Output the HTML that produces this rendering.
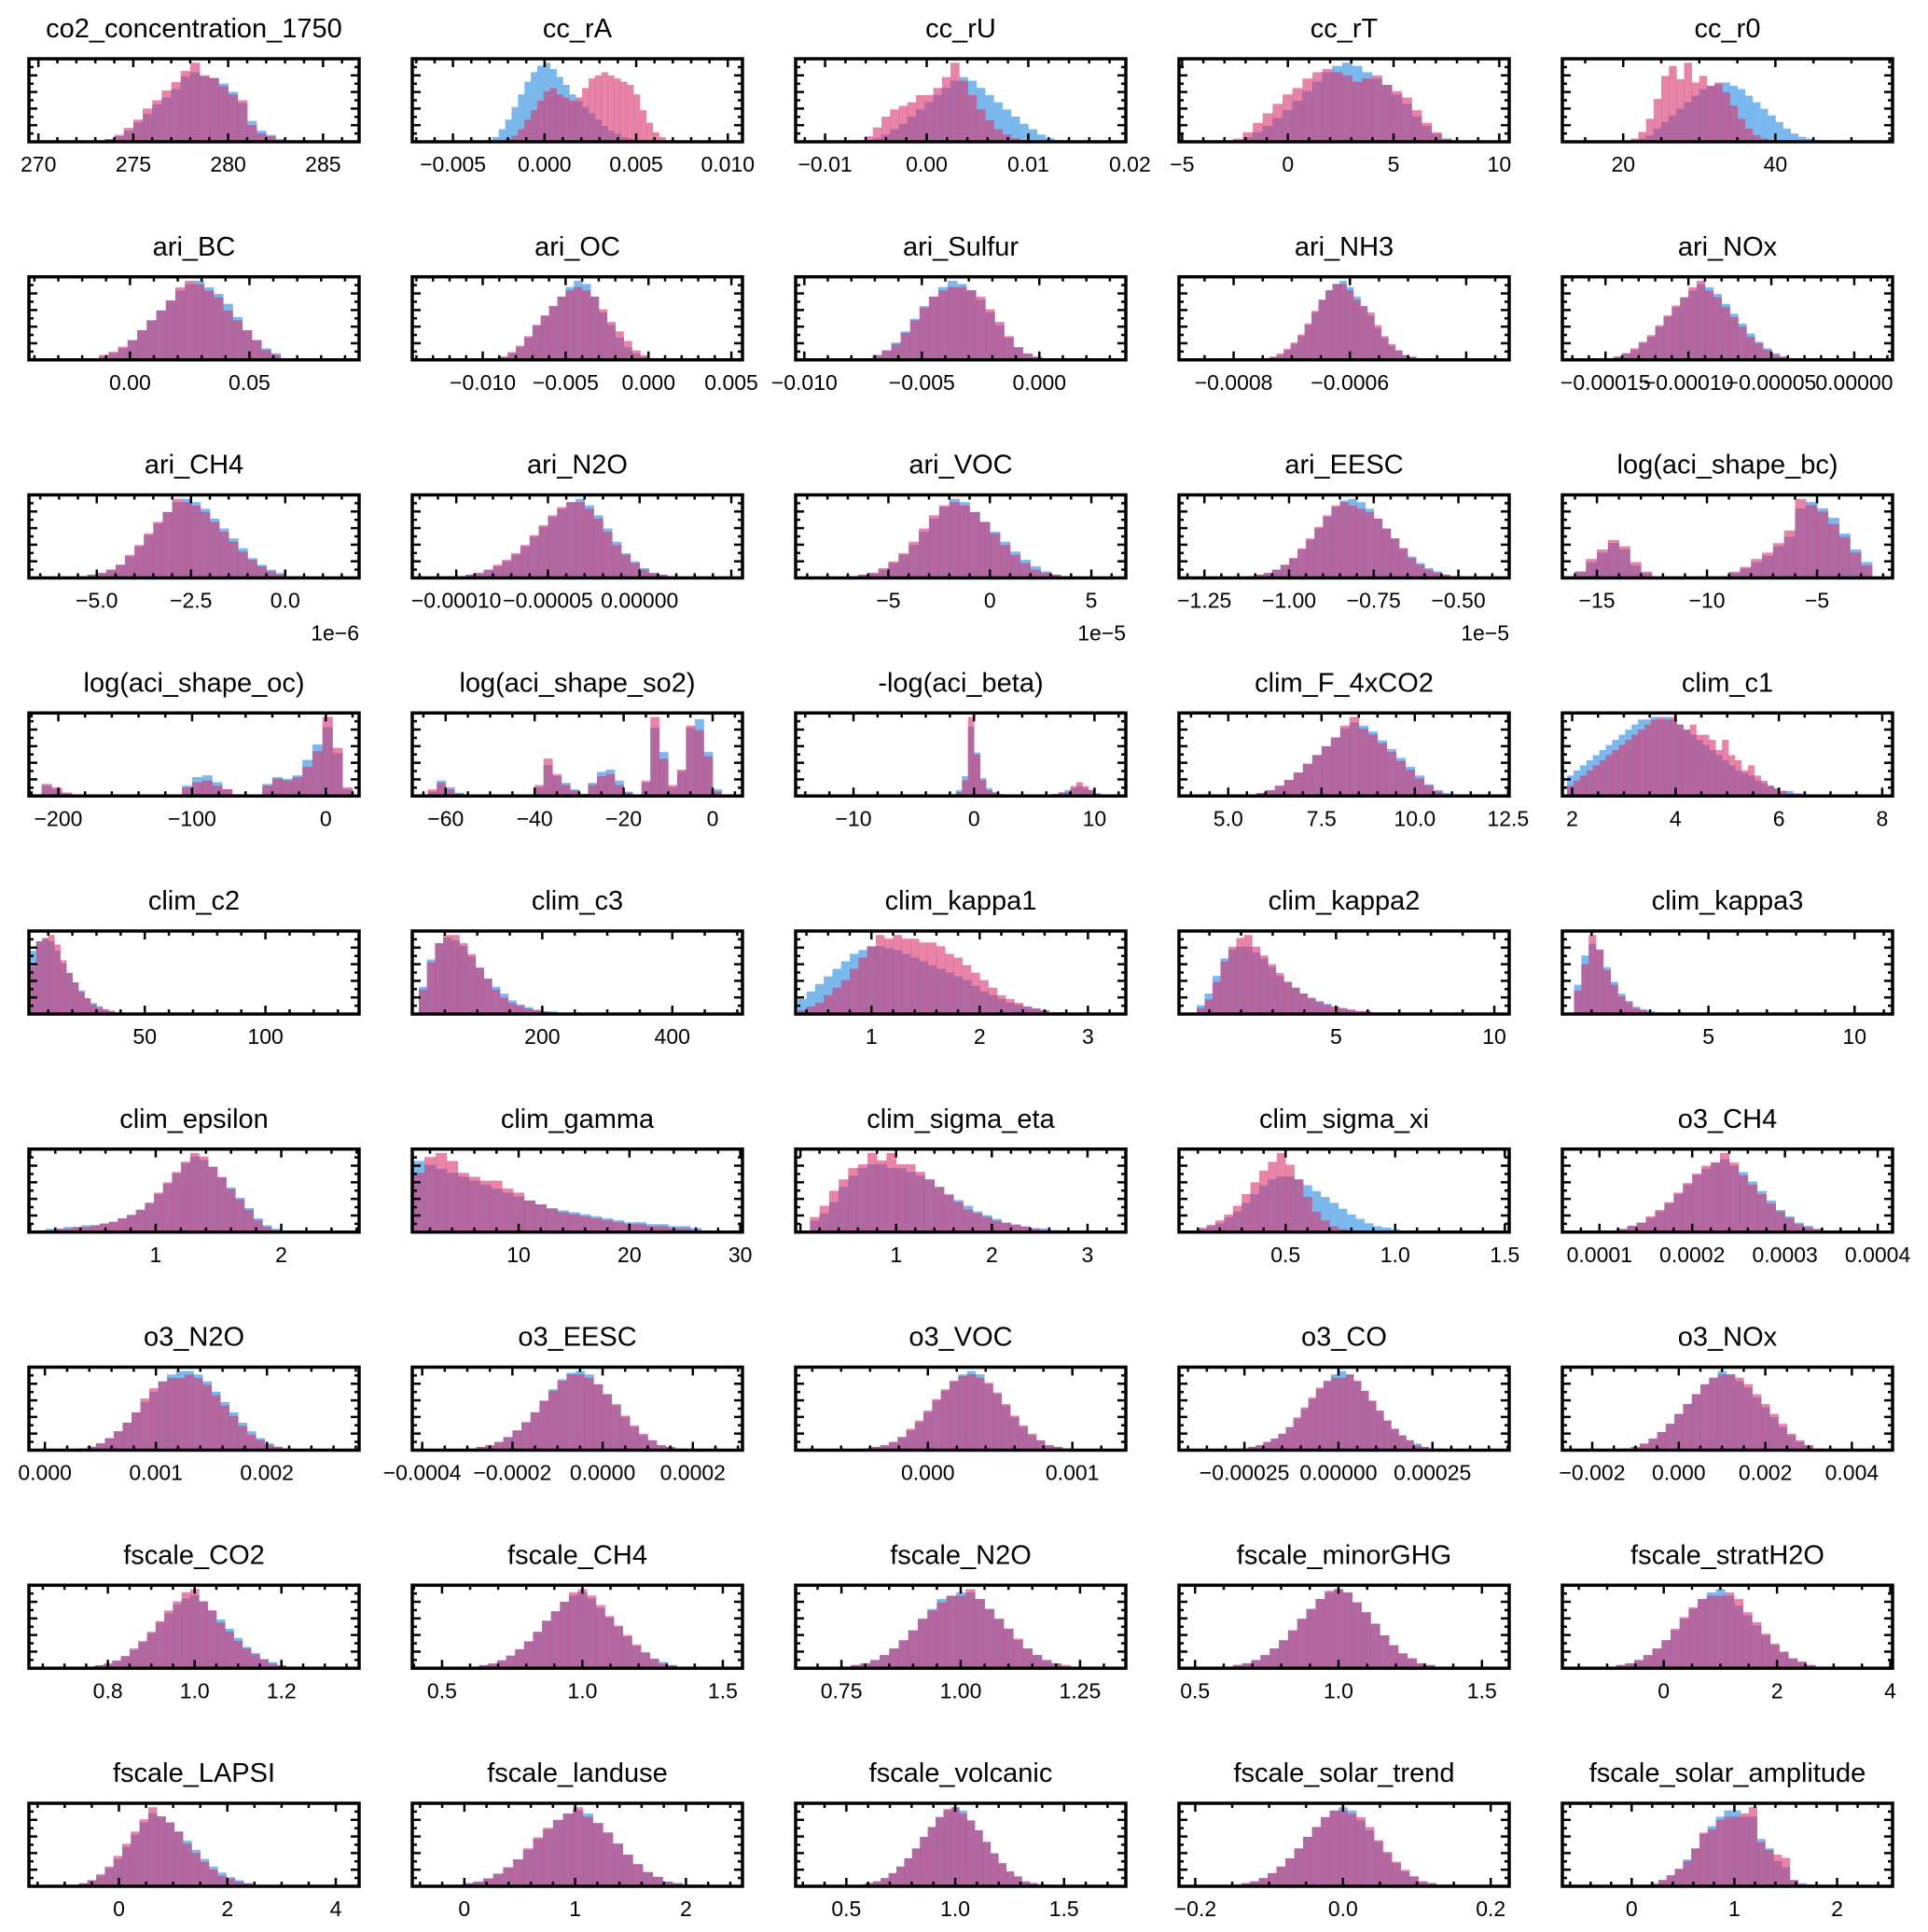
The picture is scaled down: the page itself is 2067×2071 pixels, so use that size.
<!DOCTYPE html>
<html><head><meta charset="utf-8">
<style>
html,body{margin:0;padding:0;background:#fff;}
svg{display:block;font-family:"Liberation Sans",Arial,sans-serif;}
</style></head>
<body>
<svg id="chart" width="2067" height="2071" viewBox="0 0 2067 2071" xmlns="http://www.w3.org/2000/svg"></svg>
<script>
const titles=["co2_concentration_1750","cc_rA","cc_rU","cc_rT","cc_r0",
"ari_BC","ari_OC","ari_Sulfur","ari_NH3","ari_NOx",
"ari_CH4","ari_N2O","ari_VOC","ari_EESC","log(aci_shape_bc)",
"log(aci_shape_oc)","log(aci_shape_so2)","-log(aci_beta)","clim_F_4xCO2","clim_c1",
"clim_c2","clim_c3","clim_kappa1","clim_kappa2","clim_kappa3",
"clim_epsilon","clim_gamma","clim_sigma_eta","clim_sigma_xi","o3_CH4",
"o3_N2O","o3_EESC","o3_VOC","o3_CO","o3_NOx",
"fscale_CO2","fscale_CH4","fscale_N2O","fscale_minorGHG","fscale_stratH2O",
"fscale_LAPSI","fscale_landuse","fscale_volcanic","fscale_solar_trend","fscale_solar_amplitude"];
const xMins=[269.5,-0.00722,-0.0129,-5.15,12.0, -0.0423,-0.01425,-0.01037,-0.000894,-0.000176,
-6.8,-0.000124,-9.57,-1.325,-16.57, -222,-67.5,-14.8,3.68,1.81, 2.0,0,0.30,0.04,0,
-0.01,0.4,-0.05,0.014,0.00006, -0.000144,-0.000422,-0.000915,-0.000424,-0.00269,
0.618,0.394,0.654,0.444,-1.79, -1.66,-0.47,0.267,-0.222,-0.675];
const xMaxs=[286.9,0.0108,0.0196,10.47,55.4, 0.0959,0.00567,0.00368,-0.000326,0.0000231,
1.96,0.0000561,6.7,-0.35,-1.57, 24.9,6.7,12.6,12.53,8.2, 138.8,508,3.35,10.47,11.3,
2.62,30.2,3.4,1.52,0.000416, 0.00283,0.00031,0.00137,0.000454,0.00494,
1.379,1.57,1.346,1.595,4.04, 4.43,2.51,1.784,0.225,2.54];
const tickValues=[[270,275,280,285],[-0.005,0,0.005,0.010],[-0.01,0,0.01,0.02],[-5,0,5,10],[20,40],
[0,0.05],[-0.010,-0.005,0,0.005],[-0.010,-0.005,0],[-0.0008,-0.0006],[-0.00015,-0.00010,-0.00005,0],
[-5,-2.5,0],[-0.0001,-0.00005,0],[-5,0,5],[-1.25,-1.0,-0.75,-0.5],[-15,-10,-5],
[-200,-100,0],[-60,-40,-20,0],[-10,0,10],[5,7.5,10,12.5],[2,4,6,8],
[50,100],[200,400],[1,2,3],[5,10],[5,10],
[1,2],[10,20,30],[1,2,3],[0.5,1.0,1.5],[0.0001,0.0002,0.0003,0.0004],
[0,0.001,0.002],[-0.0004,-0.0002,0,0.0002],[0,0.001],[-0.00025,0,0.00025],[-0.002,0,0.002,0.004],
[0.8,1.0,1.2],[0.5,1.0,1.5],[0.75,1.0,1.25],[0.5,1.0,1.5],[0,2,4],
[0,2,4],[0,1,2],[0.5,1.0,1.5],[-0.2,0,0.2],[0,1,2]];
const tickLabels=[["270","275","280","285"],["−0.005","0.000","0.005","0.010"],["−0.01","0.00","0.01","0.02"],["−5","0","5","10"],["20","40"],
["0.00","0.05"],["−0.010","−0.005","0.000","0.005"],["−0.010","−0.005","0.000"],["−0.0008","−0.0006"],["−0.00015","−0.00010","−0.00005","0.00000"],
["−5.0","−2.5","0.0"],["−0.00010","−0.00005","0.00000"],["−5","0","5"],["−1.25","−1.00","−0.75","−0.50"],["−15","−10","−5"],
["−200","−100","0"],["−60","−40","−20","0"],["−10","0","10"],["5.0","7.5","10.0","12.5"],["2","4","6","8"],
["50","100"],["200","400"],["1","2","3"],["5","10"],["5","10"],
["1","2"],["10","20","30"],["1","2","3"],["0.5","1.0","1.5"],["0.0001","0.0002","0.0003","0.0004"],
["0.000","0.001","0.002"],["−0.0004","−0.0002","0.0000","0.0002"],["0.000","0.001"],["−0.00025","0.00000","0.00025"],["−0.002","0.000","0.002","0.004"],
["0.8","1.0","1.2"],["0.5","1.0","1.5"],["0.75","1.00","1.25"],["0.5","1.0","1.5"],["0","2","4"],
["0","2","4"],["0","1","2"],["0.5","1.0","1.5"],["−0.2","0.0","0.2"],["0","1","2"]];
const majorSteps=[5,0.005,0.01,5,20, 0.05,0.005,0.005,0.0002,0.00005, 2.5,0.00005,5,0.25,5,
100,20,10,2.5,2, 50,200,1,5,5, 1,10,1,0.5,0.0001, 0.001,0.0002,0.001,0.00025,0.002,
0.2,0.5,0.25,0.5,2, 2,1,0.5,0.2,1];
const minorDivs=[5,5,5,5,4, 5,5,5,4,5, 5,5,5,5,5, 5,4,5,5,4, 5,4,5,5,5, 5,5,5,5,5, 5,4,5,5,4, 4,5,5,5,4, 4,5,5,4,5];
const offsetTexts={10:"1e−6",12:"1e−5",13:"1e−5"};
const binStarts=[273,-0.0032,-0.007,-2.6,21, -0.017,-0.0095,-0.0075,-0.00075,-0.000155,
-5.5,-0.000105,-7,-1.125,-16.5, -220,-64,-2,5.5,1.9, 2.5,10,0.32,0.6,0.4,
0.05,0.5,0.1,0.1,0.00011, 0.0003,-0.0003,-0.00045,-0.00028,-0.0013,
0.75,0.6,0.75,0.6,-1, -0.9,-0.1,0.55,-0.15,0.1];
const binWidths=[0.5,0.00035,0.00085,0.47,1, 0.004,0.0005,0.0004,0.000012,0.000005,
0.25,0.000005,0.5,0.025,0.5, 7.5,2,0.5,0.25,0.125, 2.5,12.5,0.08,0.25,0.25,
0.072,1,0.1,0.04,0.00001, 0.00008,0.00002,0.00006,0.00002,0.0002,
0.02,0.032,0.02,0.032,0.16, 0.16,0.09,0.036,0.012,0.08];
const blueCounts=[
[1,2,4,8,14,20,27,32,38,47,50,47,46,42,36,28,15,8,5,2,1],
[1,3,8,14,22,30,38,44,48,50,46,41,36,30,26,22,18,14,10,7,5,3,2,1,1,0,0,0,0,0,0],
[0,1,2,4,7,10,14,18,22,26,30,34,36,34,30,26,22,18,14,10,7,4,2,1],
[1,3,6,10,15,20,26,32,38,44,48,50,48,44,40,36,30,24,16,10,5,2],
[1,2,4,8,12,16,20,24,28,32,34,35,36,34,32,28,24,20,16,12,8,5,3,2,1,0],
[1,2,4,7,12,18,24,30,36,42,46,48,44,40,34,26,18,12,7,4],
[1,2,4,8,14,22,28,34,40,46,50,48,40,30,22,14,8,4,2,1,0,0],
[1,3,6,11,18,26,34,40,46,50,48,44,38,30,22,14,8,4,2,1],
[1,2,3,6,10,15,22,30,38,44,48,50,46,40,34,28,20,14,9,6,3,2,1,0],
[1,1,2,4,6,10,14,20,26,32,38,42,46,44,40,34,28,22,16,11,7,4,2,1,0],
[1,2,3,5,8,13,19,26,33,40,46,48,46,42,36,30,24,18,12,8,5,3,1,1],
[1,1,2,3,5,7,10,14,19,25,31,37,42,46,48,44,38,30,22,15,10,6,3,2,1,0],
[1,2,3,5,9,14,20,28,36,43,48,46,40,34,28,22,16,11,7,4,2,1],
[1,2,3,5,8,12,17,23,30,37,43,47,48,46,42,36,30,24,18,13,9,6,4,2,1,1],
[0,4,10,16,22,18,8,3,0,0,0,0,0,0,1,3,6,10,14,20,26,44,48,44,38,28,18,10,0],
[2,12,8,3,0,0,0,0,0,0,0,0,0,0,0,12,22,24,16,8,2,0,0,14,22,20,24,42,60,80,50,8],
[4,14,8,3,0,0,0,0,0,0,0,0,8,28,18,12,6,2,12,22,24,14,4,0,12,62,40,8,22,62,70,40,6],
[2,6,20,70,44,18,8,4,2,1,0,0,0,0,0,0,1,2,4,6,8,10,8,6,3,1],
[1,2,4,7,11,16,22,28,34,40,46,50,48,44,38,32,26,20,14,8,4,2],
[8,10,12,14,16,18,20,22,24,26,28,30,30,31,30,31,30,28,26,24,22,20,18,16,14,12,10,9,8,6,5,4,3,2,2,1,1,0,0,0],
[40,46,48,46,40,32,26,20,15,10,7,5,3,2,1,1,0,0,0],
[20,40,52,56,54,50,42,34,26,20,15,10,7,5,3,2,2,1,1,1,0,1,0,0,1,0,0,0],
[8,12,16,20,24,28,32,34,36,36,35,34,32,30,28,26,24,22,20,18,15,12,10,8,6,5,4,3,2,1,1,0],
[6,14,26,38,44,46,46,42,38,32,26,22,18,14,11,9,7,5,4,3,2,2,1,1,1,0,0,0],
[20,40,48,44,32,22,14,9,5,3,2,1,1,0,0],
[1,2,2,3,3,4,4,5,6,8,10,13,17,22,28,34,40,44,42,38,32,26,20,14,8,4,2],
[36,34,32,30,28,26,24,22,20,18,16,14,12,11,10,9,8,7,6,5,5,4,4,3,3,2],
[6,10,16,24,30,34,36,36,34,34,32,30,28,24,20,17,14,11,9,7,5,4,3,2,2,1,1,0],
[2,4,6,10,14,20,26,32,36,38,38,36,32,28,24,20,16,12,9,6,4,3,2,1,1],
[1,2,4,6,9,13,18,24,30,36,40,44,46,42,38,32,26,20,14,10,6,4,2,1,1],
[1,2,4,7,11,16,22,28,34,40,44,46,46,44,40,34,28,22,16,11,7,4,2,1],
[1,2,3,5,8,12,17,23,30,37,43,47,48,46,40,34,27,20,14,9,6,3,2,1],
[1,2,3,5,8,12,17,23,30,36,42,46,48,46,40,34,27,20,14,9,6,3,2,1],
[1,1,2,3,5,7,10,14,19,25,31,37,42,46,48,46,42,36,30,24,18,13,9,6,4,2,1,1],
[1,2,4,7,11,16,22,28,34,40,44,48,46,42,38,32,26,20,14,9,5,3,1],
[1,2,3,5,8,12,17,23,30,36,42,46,48,44,38,32,26,20,14,10,6,4,2,1,1],
[1,2,3,5,8,12,17,23,30,36,42,46,48,44,38,32,26,20,14,10,6,4,2,1,1],
[1,2,3,5,8,12,17,23,30,36,42,44,46,46,42,36,30,24,17,12,8,5,3,1,1],
[1,2,3,5,8,12,17,23,30,36,42,46,48,46,40,34,27,20,14,9,6,3,2,1,1],
[1,2,3,5,8,12,17,23,30,36,42,46,48,44,38,32,26,20,14,10,6,4,2,1,1],
[1,2,4,7,12,18,26,34,42,48,46,42,36,30,24,18,13,9,6,4,2,1,1,0,0],
[1,2,3,5,8,12,17,23,30,36,42,46,48,46,40,34,27,20,14,9,6,3,2,1,1],
[1,2,3,5,8,12,17,23,30,36,42,46,48,46,40,34,27,20,14,9,6,3,2,1,1],
[1,2,3,5,8,12,17,23,30,36,42,46,48,46,40,34,27,20,14,9,6,3,2,1,1],
[1,2,4,7,11,17,24,33,38,44,48,48,44,44,30,24,16,12,4,2,1]];
const pinkCounts=[
[1,2,5,10,16,24,30,37,43,51,57,48,46,40,34,30,12,6,4,1,0],
[0,0,0,2,4,8,14,20,26,32,34,30,28,26,28,34,40,42,44,42,40,38,36,30,20,12,6,3,1,0,0],
[1,3,8,14,18,20,22,26,26,30,36,44,34,26,18,12,7,4,2,1,0,0,0,0],
[2,6,12,18,24,30,34,40,44,46,44,42,38,40,42,36,32,28,20,12,6,2],
[2,6,14,26,40,46,38,48,36,40,34,36,30,22,14,8,4,2,1,0,0,0,0,0,0,0],
[1,3,5,8,12,18,24,30,36,44,48,46,42,38,30,24,18,12,6,3],
[1,2,5,9,15,22,28,34,40,44,46,44,40,32,24,18,12,6,3,1,0,0],
[1,3,6,10,17,25,33,40,44,46,46,44,40,32,24,15,8,4,2,1],
[1,2,4,7,11,16,23,31,38,44,48,48,44,38,34,30,22,15,10,6,3,2,1,0],
[1,1,2,4,7,11,15,21,27,33,38,44,48,42,38,32,26,20,14,10,6,3,2,1,0],
[1,2,3,5,8,14,20,27,34,40,48,46,44,40,34,28,22,16,11,7,4,2,1,0],
[1,1,2,3,5,8,11,15,20,26,32,38,43,46,46,42,36,28,20,14,9,5,3,2,1,0],
[1,2,3,6,10,15,22,30,38,44,46,44,40,34,27,20,14,9,5,3,2,1],
[1,2,3,5,8,12,18,24,31,38,44,46,44,42,40,36,30,24,18,12,8,5,3,2,1,0],
[1,4,12,18,24,20,10,4,0,0,0,0,0,0,1,4,7,12,16,22,30,50,46,42,34,26,16,8,0],
[2,14,10,4,0,0,0,0,0,0,0,0,0,0,0,10,16,18,12,8,2,0,0,12,20,18,22,34,52,92,56,10],
[6,12,6,2,0,0,0,0,0,0,0,0,10,34,20,10,5,2,10,18,20,10,3,0,14,72,34,10,24,64,60,36,4],
[1,4,16,80,42,16,6,3,1,0,0,0,0,0,0,0,1,2,3,4,10,14,10,6,2,1],
[1,2,4,7,11,16,22,28,34,40,48,54,46,42,36,30,24,18,12,7,3,1],
[4,6,8,10,12,14,16,18,20,22,24,26,28,30,31,30,31,28,26,28,24,24,22,18,22,16,14,10,12,8,6,4,3,2,1,1,0,0,0,0],
[30,46,48,50,44,34,26,20,14,10,6,4,3,2,1,1,0,0,0],
[18,38,52,58,58,52,44,34,26,18,12,8,6,4,3,2,1,1,1,0,0,0,0,0,0,0,0,0],
[2,4,6,10,14,18,24,30,36,42,40,42,40,40,38,38,36,32,30,26,22,18,14,10,8,6,4,3,2,1,1,0],
[4,10,22,36,46,52,54,46,40,34,28,22,18,14,11,8,6,5,4,3,2,2,1,1,1,0,0,1],
[16,34,54,44,30,20,12,8,4,3,1,1,0,0,0],
[1,1,2,2,3,3,4,5,6,8,10,13,17,23,29,35,41,46,44,38,32,25,19,13,7,3,1],
[30,38,40,36,30,28,26,26,22,20,16,14,12,10,9,8,7,6,5,4,4,3,3,2,2,1],
[8,14,22,28,34,36,42,38,42,36,36,32,28,24,20,16,12,10,8,6,5,4,3,2,1,1,0,0],
[3,5,8,12,18,26,34,42,48,54,46,36,24,14,8,4,2,1,1,0,0,0,0,0,0],
[1,2,4,6,10,14,19,25,31,37,42,44,50,44,36,30,24,18,13,9,5,3,2,1,0],
[1,2,4,7,11,16,22,30,36,40,42,42,44,42,38,32,26,20,14,9,6,3,2,1],
[1,2,3,5,8,12,17,23,30,36,42,46,46,44,40,34,28,21,15,10,6,3,2,1],
[1,2,3,5,8,13,18,24,31,37,42,45,46,44,41,35,28,21,15,10,6,3,2,1],
[1,1,2,3,5,7,10,14,20,26,32,38,42,44,44,46,42,36,30,24,18,13,9,6,3,2,1,0],
[1,2,4,7,11,16,22,28,34,40,44,46,46,44,40,34,28,22,16,10,6,3,1],
[1,2,3,5,8,13,18,24,31,38,44,50,52,44,38,30,24,18,13,9,6,3,2,1,0],
[1,2,3,5,8,12,17,23,30,36,42,48,50,46,40,33,27,21,15,10,6,3,2,1,1],
[1,2,3,5,8,12,17,23,30,35,40,44,44,48,42,36,30,24,18,12,8,5,3,2,1],
[1,2,3,5,8,12,17,23,30,36,42,47,48,46,40,34,27,20,14,9,6,3,2,1,1],
[1,2,3,5,8,12,17,24,31,37,42,44,44,46,42,34,28,21,15,10,6,4,2,1,1],
[1,2,4,8,13,20,28,36,44,52,46,42,36,28,22,16,11,7,5,3,2,1,0,0,0],
[1,2,3,5,8,12,17,24,31,37,42,46,50,44,40,34,27,20,14,9,6,3,2,1,1],
[1,2,3,5,8,12,17,23,30,36,42,47,48,44,40,34,27,20,14,9,6,3,2,1,1],
[1,2,3,5,8,12,17,23,30,36,42,46,46,44,42,36,28,21,15,10,6,3,2,1,1],
[1,1,4,7,11,16,24,34,36,42,44,44,46,50,28,23,20,18,4,1,1]];

const NS="http://www.w3.org/2000/svg";
const svg=document.getElementById('chart');
const COL0=31, COLSTEP=411, ROW0=63, ROWSTEP=233.75, AW=354, AH=89;
function mk(tag,attrs,parent){const e=document.createElementNS(NS,tag);for(const k in attrs)e.setAttribute(k,attrs[k]);(parent||svg).appendChild(e);return e;}

titles.forEach((title,i)=>{
  const r=Math.floor(i/5), c=i%5;
  const x0=COL0+c*COLSTEP, y0=ROW0+r*ROWSTEP;
  const g=mk('g',{});
  
  
  const xs=v=>x0+(v-xMins[i])/(xMaxs[i]-xMins[i])*AW;
  const b=blueCounts[i], p=pinkCounts[i];
  const ymax=Math.max(...b,...p)*1.05;
  const ys=v=>y0+AH-v/ymax*AH;
  const clip=mk('clipPath',{id:'clip'+i},g);
  mk('rect',{x:x0,y:y0,width:AW,height:AH},clip);
  const bars=mk('g',{'clip-path':'url(#clip'+i+')'},g);
  b.forEach((v,k)=>{
    if(v<=0)return;
    const xa=xs(binStarts[i]+k*binWidths[i]), xb=xs(binStarts[i]+(k+1)*binWidths[i]);
    const el=mk('rect',{x:xa,y:ys(v),width:xb-xa+0.3,height:y0+AH-ys(v),fill:'#7ab8ee'},bars);
    
    
  });
  p.forEach((v,k)=>{
    if(v<=0)return;
    const xa=xs(binStarts[i]+k*binWidths[i]), xb=xs(binStarts[i]+(k+1)*binWidths[i]);
    const el=mk('rect',{x:xa,y:ys(v),width:xb-xa+0.3,height:y0+AH-ys(v),fill:'#d7326e','fill-opacity':0.6},bars);
    
    
  });
  const step=majorSteps[i], nd=minorDivs[i];
  const ticks=mk('g',{stroke:'#000','stroke-width':2.5},g);
  const mstep=step/nd;
  const kStart=Math.ceil(xMins[i]/mstep-1e-6), kEnd=Math.floor(xMaxs[i]/mstep+1e-6);
  for(let k=kStart;k<=kEnd;k++){
    const v=k*mstep; const isMajor=Math.abs(k%nd)===0;
    const xx=xs(v), L=isMajor?9:5;
    mk('line',{x1:xx,x2:xx,y1:y0+AH,y2:y0+AH-L},ticks);
    mk('line',{x1:xx,x2:xx,y1:y0,y2:y0+L},ticks);
  }
  for(let k=1;k<10;k++){
    const yy=y0+AH-k*AH/10, L=(k%2===0)?9:5;
    mk('line',{x1:x0,x2:x0+L,y1:yy,y2:yy},ticks);
    mk('line',{x1:x0+AW,x2:x0+AW-L,y1:yy,y2:yy},ticks);
  }
  tickValues[i].forEach((v,k)=>{
    const t=mk('text',{x:xs(v),y:y0+AH+32,'text-anchor':'middle','font-size':23,fill:'#000'},g);
    t.textContent=tickLabels[i][k];
    
    
  });
  if(offsetTexts[i]){
    const t=mk('text',{x:x0+AW,y:y0+AH+67,'text-anchor':'end','font-size':23,fill:'#000'},g);
    t.textContent=offsetTexts[i];
    
    
  }
  mk('rect',{x:x0,y:y0,width:AW,height:AH,fill:'none',stroke:'#000','stroke-width':3.5},g);
  const tt=mk('text',{x:x0+AW/2,y:y0-23,'text-anchor':'middle','font-size':29,fill:'#000'},g);
  tt.textContent=title;
  
  
});
</script>
</body></html>
